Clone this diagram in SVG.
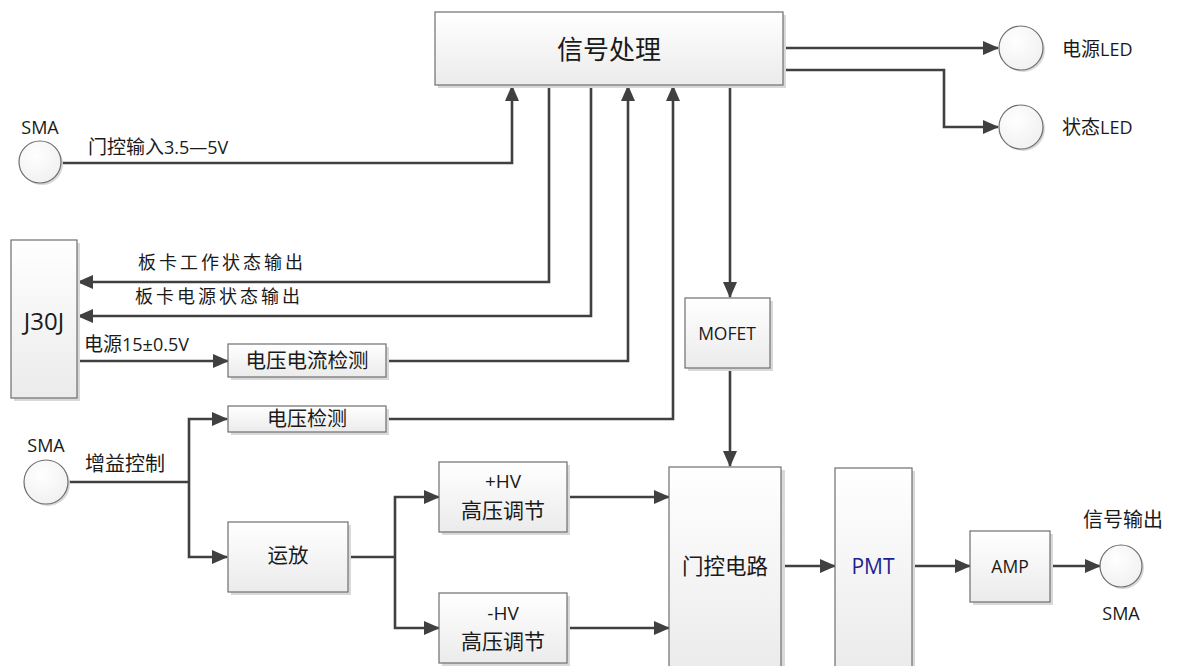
<svg xmlns="http://www.w3.org/2000/svg" width="1198" height="666" viewBox="0 0 1198 666">
<defs>
<linearGradient id="g" x1="0" y1="0" x2="0" y2="1">
<stop offset="0" stop-color="#ffffff"/>
<stop offset="1" stop-color="#ebebeb"/>
</linearGradient>
<radialGradient id="cg" cx="0.4" cy="0.35" r="0.7">
<stop offset="0" stop-color="#ffffff"/>
<stop offset="1" stop-color="#f0f0f0"/>
</radialGradient>
<marker id="a" markerWidth="16" markerHeight="14" refX="15" refY="7" orient="auto" markerUnits="userSpaceOnUse">
<path d="M0,0 L16,7 L0,14 Z" fill="#404040"/>
</marker>
</defs>
<style>
.box{fill:url(#g);stroke:#6e6e6e;stroke-width:1.2}
.sh{fill:#d9d9d9}
.cir{fill:url(#cg);stroke:#6e6e6e;stroke-width:1.2}
.ln{fill:none;stroke:#404040;stroke-width:2.6;stroke-linejoin:miter}
.arr{marker-end:url(#a)}
.cn{font-family:"Noto Sans CJK SC","Liberation Sans",sans-serif;fill:#1a1a1a}
.en{font-family:"Open Sans","Liberation Sans",sans-serif;fill:#1a1a1a}
</style>
<rect width="1198" height="666" fill="#ffffff"/>

<g id="connectors">
<path class="ln arr" d="M61,163 H512 V86"/>
<path class="ln arr" d="M549,86 V282 H78"/>
<path class="ln arr" d="M591,86 V316 H78"/>
<path class="ln arr" d="M78,361 H228"/>
<path class="ln arr" d="M386,361 H628 V86"/>
<path class="ln arr" d="M386,419 H673 V86"/>
<path class="ln arr" d="M730,86 V297"/>
<path class="ln arr" d="M730,368 V466"/>
<path class="ln arr" d="M783,48 H998"/>
<path class="ln arr" d="M783,70 H944 V127 H998"/>
<path class="ln" d="M68,482 H189"/>
<path class="ln arr" d="M189,482 V419 H227"/>
<path class="ln arr" d="M189,482 V557 H227"/>
<path class="ln" d="M348,557 H395"/>
<path class="ln arr" d="M395,557 V497 H439"/>
<path class="ln arr" d="M395,557 V628 H439"/>
<path class="ln arr" d="M567,497 H669"/>
<path class="ln arr" d="M567,628 H669"/>
<path class="ln arr" d="M781,566 H835"/>
<path class="ln arr" d="M912,566 H970"/>
<path class="ln arr" d="M1050,566 H1100"/>
</g>

<g id="signal-processing">
<rect class="sh" x="438" y="15" width="348" height="73"/>
<rect class="box" x="435" y="12" width="348" height="73"/>
<text class="cn" x="609" y="59" font-size="26" text-anchor="middle">信号处理</text>
</g>

<g id="led-power">
<circle class="sh" cx="1023" cy="50" r="22"/>
<circle class="cir" cx="1021" cy="48" r="22"/>
<text class="cn" x="1062" y="56" font-size="19">电源<tspan class="en" font-size="18">LED</tspan></text>
</g>

<g id="led-status">
<circle class="sh" cx="1023" cy="129" r="22"/>
<circle class="cir" cx="1021" cy="127" r="22"/>
<text class="cn" x="1062" y="134" font-size="19">状态<tspan class="en" font-size="18">LED</tspan></text>
</g>

<g id="sma-gate">
<circle class="sh" cx="42" cy="164" r="21"/>
<circle class="cir" cx="40" cy="162" r="21"/>
<text class="en" x="40" y="134" font-size="18" text-anchor="middle">SMA</text>
<text class="cn" x="88" y="154" font-size="19">门控输入<tspan class="en" font-size="18">3.5—5V</tspan></text>
</g>

<g id="j30j">
<rect class="sh" x="14" y="243" width="66" height="158"/>
<rect class="box" x="11" y="240" width="66" height="158"/>
<text class="en" x="44" y="330" font-size="24" text-anchor="middle">J30J</text>
</g>

<text class="cn" x="138" y="269" font-size="18" letter-spacing="3">板卡工作状态输出</text>
<text class="cn" x="135" y="303" font-size="18" letter-spacing="3">板卡电源状态输出</text>
<text class="cn" x="84" y="351" font-size="19">电源<tspan class="en" font-size="18">15±0.5V</tspan></text>

<g id="vi-detect">
<rect class="sh" x="231" y="347" width="158" height="33"/>
<rect class="box" x="228" y="344" width="158" height="33"/>
<text class="cn" x="307" y="368" font-size="20.5" text-anchor="middle">电压电流检测</text>
</g>

<g id="v-detect">
<rect class="sh" x="231" y="409" width="158" height="26"/>
<rect class="box" x="228" y="406" width="158" height="26"/>
<text class="cn" x="307" y="426" font-size="20" text-anchor="middle">电压检测</text>
</g>

<g id="sma-gain">
<circle class="sh" cx="48" cy="484" r="22"/>
<circle class="cir" cx="46" cy="482" r="22"/>
<text class="en" x="46" y="452" font-size="18" text-anchor="middle">SMA</text>
<text class="cn" x="85" y="471" font-size="20">增益控制</text>
</g>

<g id="opamp">
<rect class="sh" x="231" y="525" width="120" height="70"/>
<rect class="box" x="228" y="522" width="120" height="70"/>
<text class="cn" x="288" y="563" font-size="20.5" text-anchor="middle">运放</text>
</g>

<g id="hv-plus">
<rect class="sh" x="442" y="465" width="128" height="70"/>
<rect class="box" x="439" y="462" width="128" height="70"/>
<text class="en" x="503" y="488" font-size="19" text-anchor="middle">+HV</text>
<text class="cn" x="503" y="518" font-size="21" text-anchor="middle">高压调节</text>
</g>

<g id="hv-minus">
<rect class="sh" x="442" y="596" width="128" height="70"/>
<rect class="box" x="439" y="593" width="128" height="70"/>
<text class="en" x="503" y="620" font-size="19" text-anchor="middle">-HV</text>
<text class="cn" x="503" y="649" font-size="21" text-anchor="middle">高压调节</text>
</g>

<g id="mofet">
<rect class="sh" x="688" y="301" width="85" height="70"/>
<rect class="box" x="685" y="298" width="85" height="70"/>
<text class="en" x="727" y="340" font-size="17.5" text-anchor="middle">MOFET</text>
</g>

<g id="gate-circuit">
<rect class="sh" x="672" y="470" width="113" height="200"/>
<rect class="box" x="669" y="467" width="112" height="202"/>
<text class="cn" x="725" y="574" font-size="21.5" text-anchor="middle">门控电路</text>
</g>

<g id="pmt">
<rect class="sh" x="838" y="471" width="77" height="200"/>
<rect class="box" x="835" y="468" width="77" height="200"/>
<text class="en" x="873" y="574" font-size="21" text-anchor="middle" style="fill:#1f1f8f">PMT</text>
</g>

<g id="amp">
<rect class="sh" x="973" y="534" width="80" height="71"/>
<rect class="box" x="970" y="531" width="80" height="71"/>
<text class="en" x="1010" y="573" font-size="17.5" text-anchor="middle">AMP</text>
</g>

<g id="sma-out">
<circle class="sh" cx="1123" cy="568" r="21"/>
<circle class="cir" cx="1121" cy="566" r="21"/>
<text class="cn" x="1083" y="527" font-size="20">信号输出</text>
<text class="en" x="1121" y="620" font-size="18" text-anchor="middle">SMA</text>
</g>
</svg>
